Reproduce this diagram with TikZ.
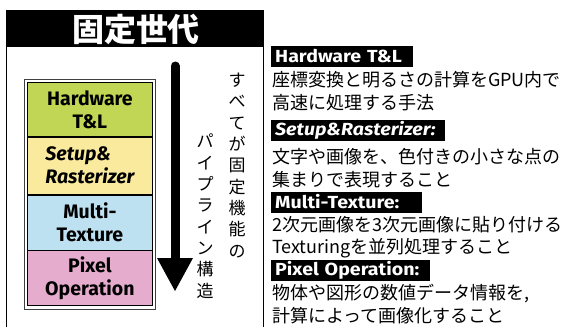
\documentclass[tikz,border=0pt]{standalone}
\usepackage{fontspec}
\setmainfont{Noto Sans CJK JP}
\newfontfamily\labfont{Fira Sans}
\newfontfamily\tagfont[FakeStretch=1.12]{Fira Sans}
\usetikzlibrary{fit,calc}
\definecolor{cgreen}{RGB}{192,214,84}
\definecolor{cyellow}{RGB}{249,234,158}
\definecolor{cblue}{RGB}{190,225,241}
\definecolor{cpink}{RGB}{229,172,206}
\begin{document}
\begin{tikzpicture}[x=1pt,y=-1pt,
  stage/.style={draw=black, line width=0.8pt, minimum width=125pt, anchor=north west, inner sep=0pt,
    font=\labfont\bfseries\fontsize{19.5}{23}\selectfont, align=center},
  tag/.style={fill=black, text=white, anchor=west, inner xsep=4pt, inner ysep=0pt, minimum height=21pt,
    font=\tagfont\bfseries\fontsize{17.5}{19}\selectfont, align=left},
  jtext/.style={anchor=west, inner sep=0pt, font=\fontsize{18}{20}\selectfont},
  vtext/.style={anchor=north, inner sep=0pt, align=center, font=\fontsize{17}{21.3}\selectfont}
]
\useasboundingbox (0,0) rectangle (571,327);
\fill[white] (0,0) rectangle (571,327);
% left panel
\node[fill=black, minimum width=258pt, minimum height=37pt, anchor=north west, inner sep=0pt] (head) at (6,10) {};
\node[text=white, font=\bfseries\fontsize{32}{34}\selectfont, inner sep=0pt] (title) at (136,29) {固定世代};
\coordinate (pl) at (6.5,327);
\coordinate (pr) at (263.5,327);
\draw[line width=1pt] (6.5,47) -- (pl);
\draw[line width=1pt] (263.5,47) -- (pr);
% stack
\node[stage, fill=cgreen, minimum height=54pt] (s1) at (27,82) {Hardware\\T\&L};
\node[stage, fill=cyellow, minimum height=57pt, align=left, font=\labfont\bfseries\itshape\fontsize{19.5}{23}\selectfont] (s2) at (s1.south west) {Setup\&\\Rasterizer};
\node[stage, fill=cblue, minimum height=55pt] (s3) at (s2.south west) {Multi-\\Texture};
\node[stage, fill=cpink, minimum height=55pt] (s4) at (s3.south west) {Pixel\\Operation};
\node[draw=black!75, line width=0.7pt, fit=(s1)(s4), inner sep=3pt] (frame) {};
% arrow
\coordinate (atop) at (175,66);
\coordinate (abot) at (175,291);
\draw[line width=9pt, line cap=round] (atop) -- ($(abot)+(0,-30)$);
\fill ($(abot)+(-18,-33)$) -- ($(abot)+(18,-33)$) -- (abot) -- cycle;
% vertical text
\node[vtext] (v1) at (237,73) {す\\べ\\て\\が\\固\\定\\機\\能\\の};
\node[vtext] (v2) at (205,134) {パ\\イ\\プ\\ラ\\イ\\ン\\構\\造};
% right side
\node[tag, text width=134pt] (t1) at (271,56.5) {Hardware T\&L};
\node[jtext] (l1) at (272,80) {座標変換と明るさの計算をGPU内で};
\node[jtext] (l2) at (272,103) {高速に処理する手法};
\node[tag, text width=166pt, font=\tagfont\bfseries\itshape\fontsize{17.5}{19}\selectfont] (t2) at (271,130) {Setup\&Rasterizer:};
\node[jtext] (l3) at (272,157) {文字や画像を、色付きの小さな点の};
\node[jtext] (l4) at (272,180) {集まりで表現すること};
\node[tag, text width=143pt] (t3) at (271,202) {Multi-Texture:};
\node[jtext] (l5) at (272,225) {2次元画像を3次元画像に貼り付ける};
\node[jtext] (l6) at (272,248) {Texturingを並列処理すること};
\node[tag, text width=151pt] (t4) at (271,270) {Pixel Operation:};
\node[jtext] (l7) at (272,294) {物体や図形の数値データ情報を,};
\node[jtext] (l8) at (272,316) {計算によって画像化すること};
\end{tikzpicture}
\end{document}
